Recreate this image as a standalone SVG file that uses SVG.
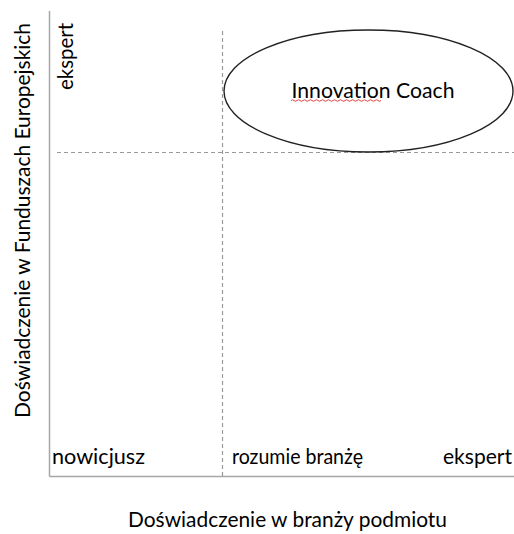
<svg xmlns="http://www.w3.org/2000/svg" width="514" height="534" viewBox="0 0 514 534">
<style>
.t{font-family:Lato,"Open Sans","Liberation Sans",sans-serif;font-size:21px;fill:#000}
.axis{stroke:#a6a6a6;stroke-width:1.5;fill:none}
.dash{stroke:#9a9a9a;stroke-width:1.2;stroke-dasharray:4 3;fill:none}
</style>
<rect width="514" height="534" fill="#fff"/>
<g id="connectors">
<line class="axis" x1="49.5" y1="11" x2="49.5" y2="476.5"/>
<line class="axis" x1="49.5" y1="476.5" x2="514" y2="476.5"/>
<line class="dash" x1="222.5" y1="31" x2="222.5" y2="476"/>
<line class="dash" x1="57" y1="152.5" x2="514" y2="152.5"/>
</g>
<g id="innovation-coach">
<ellipse cx="368.5" cy="91" rx="144.5" ry="61" fill="none" stroke="#222" stroke-width="1.4"/>
<text class="t" x="291.5" y="97.5" font-size="22" textLength="163" lengthAdjust="spacingAndGlyphs">Innovation Coach</text>
<path d="M291,100.5 q1.5,-1.5 3,0 t3,0 t3,0 t3,0 t3,0 t3,0 t3,0 t3,0 t3,0 t3,0 t3,0 t3,0 t3,0 t3,0 t3,0 t3,0 t3,0 t3,0 t3,0 t3,0 t3,0 t3,0 t3,0 t3,0 t3,0 t3,0 t3,0 t3,0 t3,0 t3,0" fill="none" stroke="#e03030" stroke-width="0.9"/>
</g>
<g id="label-nowicjusz">
<text class="t" x="52" y="463.5" textLength="93" lengthAdjust="spacingAndGlyphs">nowicjusz</text>
</g>
<g id="label-rozumie">
<text class="t" x="232" y="463.5" textLength="131" lengthAdjust="spacingAndGlyphs">rozumie branżę</text>
</g>
<g id="label-ekspert-x">
<text class="t" x="443" y="463.5" textLength="69" lengthAdjust="spacingAndGlyphs">ekspert</text>
</g>
<g id="label-ekspert-y">
<text class="t" font-size="22" transform="translate(73,90) rotate(-90)" x="0" y="0" textLength="67" lengthAdjust="spacingAndGlyphs">ekspert</text>
</g>
<g id="axis-title-x">
<text class="t" x="128" y="527" textLength="319" lengthAdjust="spacingAndGlyphs">Doświadczenie w branży podmiotu</text>
</g>
<g id="axis-title-y">
<text class="t" font-size="23" transform="translate(30,418) rotate(-90)" x="0" y="0" textLength="395" lengthAdjust="spacingAndGlyphs">Doświadczenie w Funduszach Europejskich</text>
</g>
</svg>
